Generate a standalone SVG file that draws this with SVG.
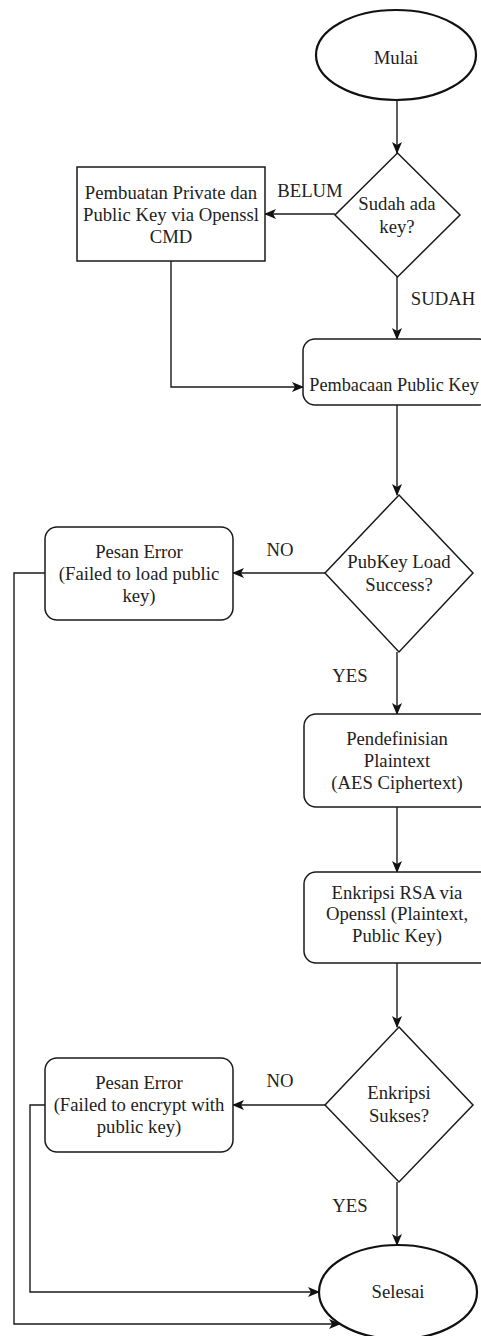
<svg xmlns="http://www.w3.org/2000/svg" width="481" height="1336" viewBox="0 0 481 1336">
<style>
.shape{fill:#fff;stroke:#1a1a1a;stroke-width:1.5}
.term{fill:#fff;stroke:#111;stroke-width:2.2}
.t{font-family:"Liberation Serif","Times New Roman",serif;font-size:18.7px;fill:#222;text-anchor:middle}
.c{fill:none;stroke:#1a1a1a;stroke-width:1.4}
</style>
<defs>
<marker id="arr" viewBox="0 0 12 10" refX="11" refY="5" markerWidth="12" markerHeight="10" markerUnits="userSpaceOnUse" orient="auto">
<path d="M0,0 L12,5 L0,10 L3,5 Z" fill="#111"/>
</marker>
</defs>
<rect width="481" height="1336" fill="#fff"/>
<g id="connectors">
<path class="c" d="M397,100 L397,153" marker-end="url(#arr)"/>
<path class="c" d="M335,214 L265,214" marker-end="url(#arr)"/>
<path class="c" d="M397,277 L397,339" marker-end="url(#arr)"/>
<path class="c" d="M171,261 L171,387 L303,387" marker-end="url(#arr)"/>
<path class="c" d="M397,405 L397,495" marker-end="url(#arr)"/>
<path class="c" d="M325,573 L233,573" marker-end="url(#arr)"/>
<path class="c" d="M397,652 L397,714" marker-end="url(#arr)"/>
<path class="c" d="M397,807 L397,872" marker-end="url(#arr)"/>
<path class="c" d="M397,963 L397,1027" marker-end="url(#arr)"/>
<path class="c" d="M325,1105 L233,1105" marker-end="url(#arr)"/>
<path class="c" d="M397,1182 L397,1245" marker-end="url(#arr)"/>
<path class="c" d="M45,573 L14,573 L14,1324 L340,1324" marker-end="url(#arr)"/>
<path class="c" d="M45,1105 L30,1105 L30,1292 L319,1292" marker-end="url(#arr)"/>
<text class="t" x="310" y="197">BELUM</text>
<text class="t" x="443" y="305">SUDAH</text>
<text class="t" x="280" y="556">NO</text>
<text class="t" x="350" y="682">YES</text>
<text class="t" x="280" y="1087">NO</text>
<text class="t" x="350" y="1212">YES</text>
</g>
<g id="mulai">
<ellipse class="term" cx="396" cy="55" rx="80" ry="45"/>
<text class="t" x="396" y="64">Mulai</text>
</g>
<g id="cek-key">
<polygon class="shape" points="397.5,153 460,215 397.5,277 335,215"/>
<text class="t" x="397" y="210">Sudah ada</text>
<text class="t" x="397" y="233">key?</text>
</g>
<g id="buat-key">
<rect class="shape" x="77" y="167" width="188" height="94"/>
<text class="t" x="171" y="199">Pembuatan Private dan</text>
<text class="t" x="171" y="221">Public Key via Openssl</text>
<text class="t" x="171" y="243">CMD</text>
</g>
<g id="baca-key">
<rect class="shape" x="303" y="339" width="188" height="66" rx="12"/>
<text class="t" x="394" y="391" style="font-size:18.3px">Pembacaan Public Key</text>
</g>
<g id="cek-load">
<polygon class="shape" points="399,495 473,573 399,652 325,573"/>
<text class="t" x="399" y="568">PubKey Load</text>
<text class="t" x="399" y="591">Success?</text>
</g>
<g id="error-load">
<rect class="shape" x="45" y="527" width="188" height="93" rx="12"/>
<text class="t" x="139" y="558">Pesan Error</text>
<text class="t" x="139" y="580">(Failed to load public</text>
<text class="t" x="139" y="602">key)</text>
</g>
<g id="plaintext">
<rect class="shape" x="304" y="714" width="188" height="93" rx="12"/>
<text class="t" x="397" y="745">Pendefinisian</text>
<text class="t" x="397" y="767">Plaintext</text>
<text class="t" x="397" y="789">(AES Ciphertext)</text>
</g>
<g id="enkripsi">
<rect class="shape" x="304" y="872" width="188" height="91" rx="12"/>
<text class="t" x="397" y="899">Enkripsi RSA via</text>
<text class="t" x="397" y="920">Openssl (Plaintext,</text>
<text class="t" x="397" y="942">Public Key)</text>
</g>
<g id="cek-enkripsi">
<polygon class="shape" points="399,1027 473,1105 399,1182 325,1105"/>
<text class="t" x="399" y="1099">Enkripsi</text>
<text class="t" x="399" y="1122">Sukses?</text>
</g>
<g id="error-enkripsi">
<rect class="shape" x="45" y="1058" width="188" height="94" rx="12"/>
<text class="t" x="139" y="1089">Pesan Error</text>
<text class="t" x="139" y="1111">(Failed to encrypt with</text>
<text class="t" x="139" y="1133">public key)</text>
</g>
<g id="selesai">
<ellipse class="term" cx="398" cy="1292" rx="79" ry="47"/>
<text class="t" x="398" y="1298">Selesai</text>
</g>
</svg>
